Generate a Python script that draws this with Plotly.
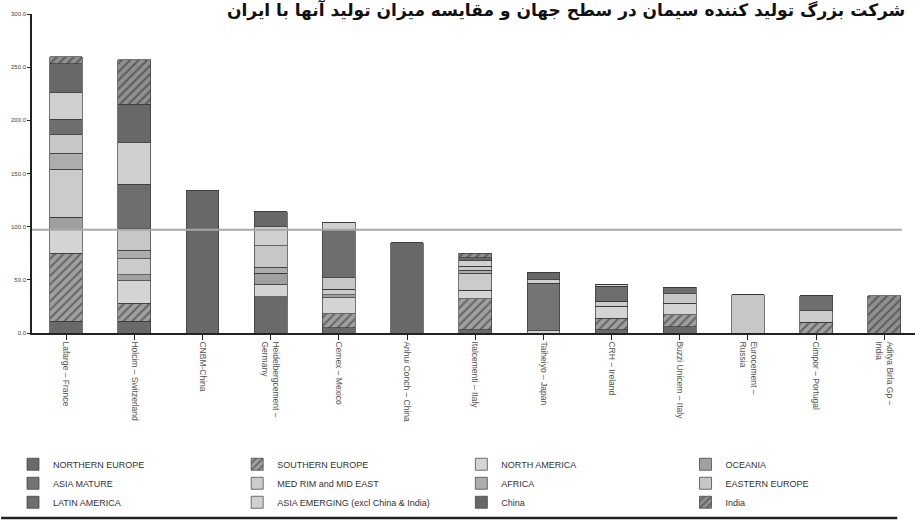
import plotly.graph_objects as go

companies = ["Lafarge – France", "Holcim – Switzerland", "CNBM-China",
             "Heidelbergcement –<br>Germany", "Cemex – Mexico", "Anhui Conch – China",
             "Italcementi – Italy", "Taiheiyo – Japan", "CRH – Ireland",
             "Buzzi Unicem – Italy", "Eurocement –<br>Russia", "Cimpor – Portugal",
             "Aditya Birla Gp –<br>India"]

categories = ["NORTHERN EUROPE", "SOUTHERN EUROPE", "NORTH AMERICA", "OCEANIA",
              "ASIA MATURE", "MED RIM and MID EAST", "AFRICA", "EASTERN EUROPE",
              "LATIN AMERICA", "ASIA EMERGING (excl China & India)", "China", "India"]

northern_europe = [11, 11, 0, 34, 5, 0, 3, 0, 3, 6, 0, 0, 0]
southern_europe = [64, 17, 0, 0, 13, 0, 29, 0, 11, 11, 0, 10, 0]
north_america   = [22, 21, 0, 12, 15, 0, 8, 2, 11, 11, 0, 0, 0]
oceania         = [12, 6, 0, 10, 3, 0, 0, 0, 0, 0, 0, 0, 0]
asia_mature     = [0, 0, 0, 0, 0, 0, 0, 45, 0, 0, 0, 0, 0]
med_rim         = [45, 15, 0, 0, 5, 0, 16, 0, 5, 0, 0, 11, 0]
africa          = [15, 8, 0, 6, 0, 0, 3, 0, 0, 0, 0, 0, 0]
eastern_europe  = [18, 20, 0, 20, 11, 0, 4, 0, 0, 9, 36, 0, 0]
latin_america   = [14, 42, 0, 0, 45, 0, 0, 0, 14, 6, 0, 14, 0]
asia_emerging   = [25, 39, 0, 18, 7, 0, 5, 3, 2, 0, 0, 0, 0]
china           = [27, 36, 134, 14, 0, 85, 3, 7, 0, 0, 0, 0, 0]
india           = [7, 42, 0, 0, 0, 0, 4, 0, 0, 0, 0, 0, 35]

iran_level = 97
y_ticks = [0, 50, 100, 150, 200, 250, 300]
y_tick_labels = ["0.0", "50.0", "100.0", "150.0", "200.0", "250.0", "300.0"]

title_text = "شرکت بزرگ تولید کننده سیمان در سطح جهان و مقایسه میزان تولید آنها با ایران"

series = [northern_europe, southern_europe, north_america, oceania, asia_mature,
          med_rim, africa, eastern_europe, latin_america, asia_emerging, china, india]

styles = [
    dict(color="#6a6a6a"),
    dict(color="#9a9a9a", pattern=dict(shape="/", fgcolor="#2a2a2a", bgcolor="#a0a0a0", size=6, solidity=0.35)),
    dict(color="#d4d4d4"),
    dict(color="#a0a0a0"),
    dict(color="#747474"),
    dict(color="#cbcbcb"),
    dict(color="#adadad"),
    dict(color="#c7c7c7"),
    dict(color="#6e6e6e"),
    dict(color="#d0d0d0"),
    dict(color="#686868"),
    dict(color="#8a8a8a", pattern=dict(shape="/", fgcolor="#2a2a2a", bgcolor="#909090", size=6, solidity=0.35)),
]

x_idx = list(range(len(companies)))

fig = go.Figure()
for name, vals, st in zip(categories, series, styles):
    marker = dict(color=st["color"], line=dict(color="#3a3a3a", width=0.7))
    if "pattern" in st:
        marker["pattern"] = st["pattern"]
    fig.add_trace(go.Bar(x=x_idx, y=vals, name=name, marker=marker))

fig.add_shape(type="line", xref="paper", yref="y", x0=0.0, x1=0.985,
              y0=iran_level, y1=iran_level, line=dict(color="#a8a8a8", width=2))
fig.add_shape(type="line", xref="paper", yref="paper", x0=-0.035, x1=0.98,
              y0=-0.58, y1=-0.58, layer="above", line=dict(color="#222", width=2.5))

fig.add_annotation(text="<b>" + title_text + "</b>", xref="paper", yref="paper",
                   x=1, y=1, xanchor="right", yanchor="middle", xshift=-8, yshift=4,
                   showarrow=False, font=dict(family="DejaVu Sans", size=17, color="#111"))

fig.update_layout(
    width=915, height=530,
    margin=dict(l=32, r=0, t=14, b=197),
    barmode="stack", bargap=0.52,
    plot_bgcolor="white", paper_bgcolor="white",
    showlegend=True,
    legend=dict(orientation="h", x=-0.002, y=-0.366, xanchor="left", yanchor="top",
                entrywidth=0.245, entrywidthmode="fraction", traceorder="normal",
                bgcolor="rgba(0,0,0,0)",
                font=dict(family="Liberation Sans Narrow, Liberation Sans", size=9, color="#333"),
                itemwidth=30, tracegroupgap=0),
    xaxis=dict(tickmode="array", tickvals=x_idx, ticktext=companies, tickangle=90,
               range=[-0.5, 12.45], showline=True, linecolor="#222", linewidth=1.5,
               ticks="outside", tickson="boundaries", ticklen=5, tickcolor="#222",
               tickfont=dict(family="Liberation Sans", size=8.5, color="#555"),
               showgrid=False, zeroline=False),
    yaxis=dict(range=[0, 300], tickvals=y_ticks, ticktext=y_tick_labels,
               showline=True, linecolor="#222", linewidth=1.5, ticks="outside",
               ticklen=3, tickcolor="#222",
               tickfont=dict(family="Liberation Sans", size=6, color="#444"),
               showgrid=False, zeroline=False),
)

fig.write_html("out.html")
